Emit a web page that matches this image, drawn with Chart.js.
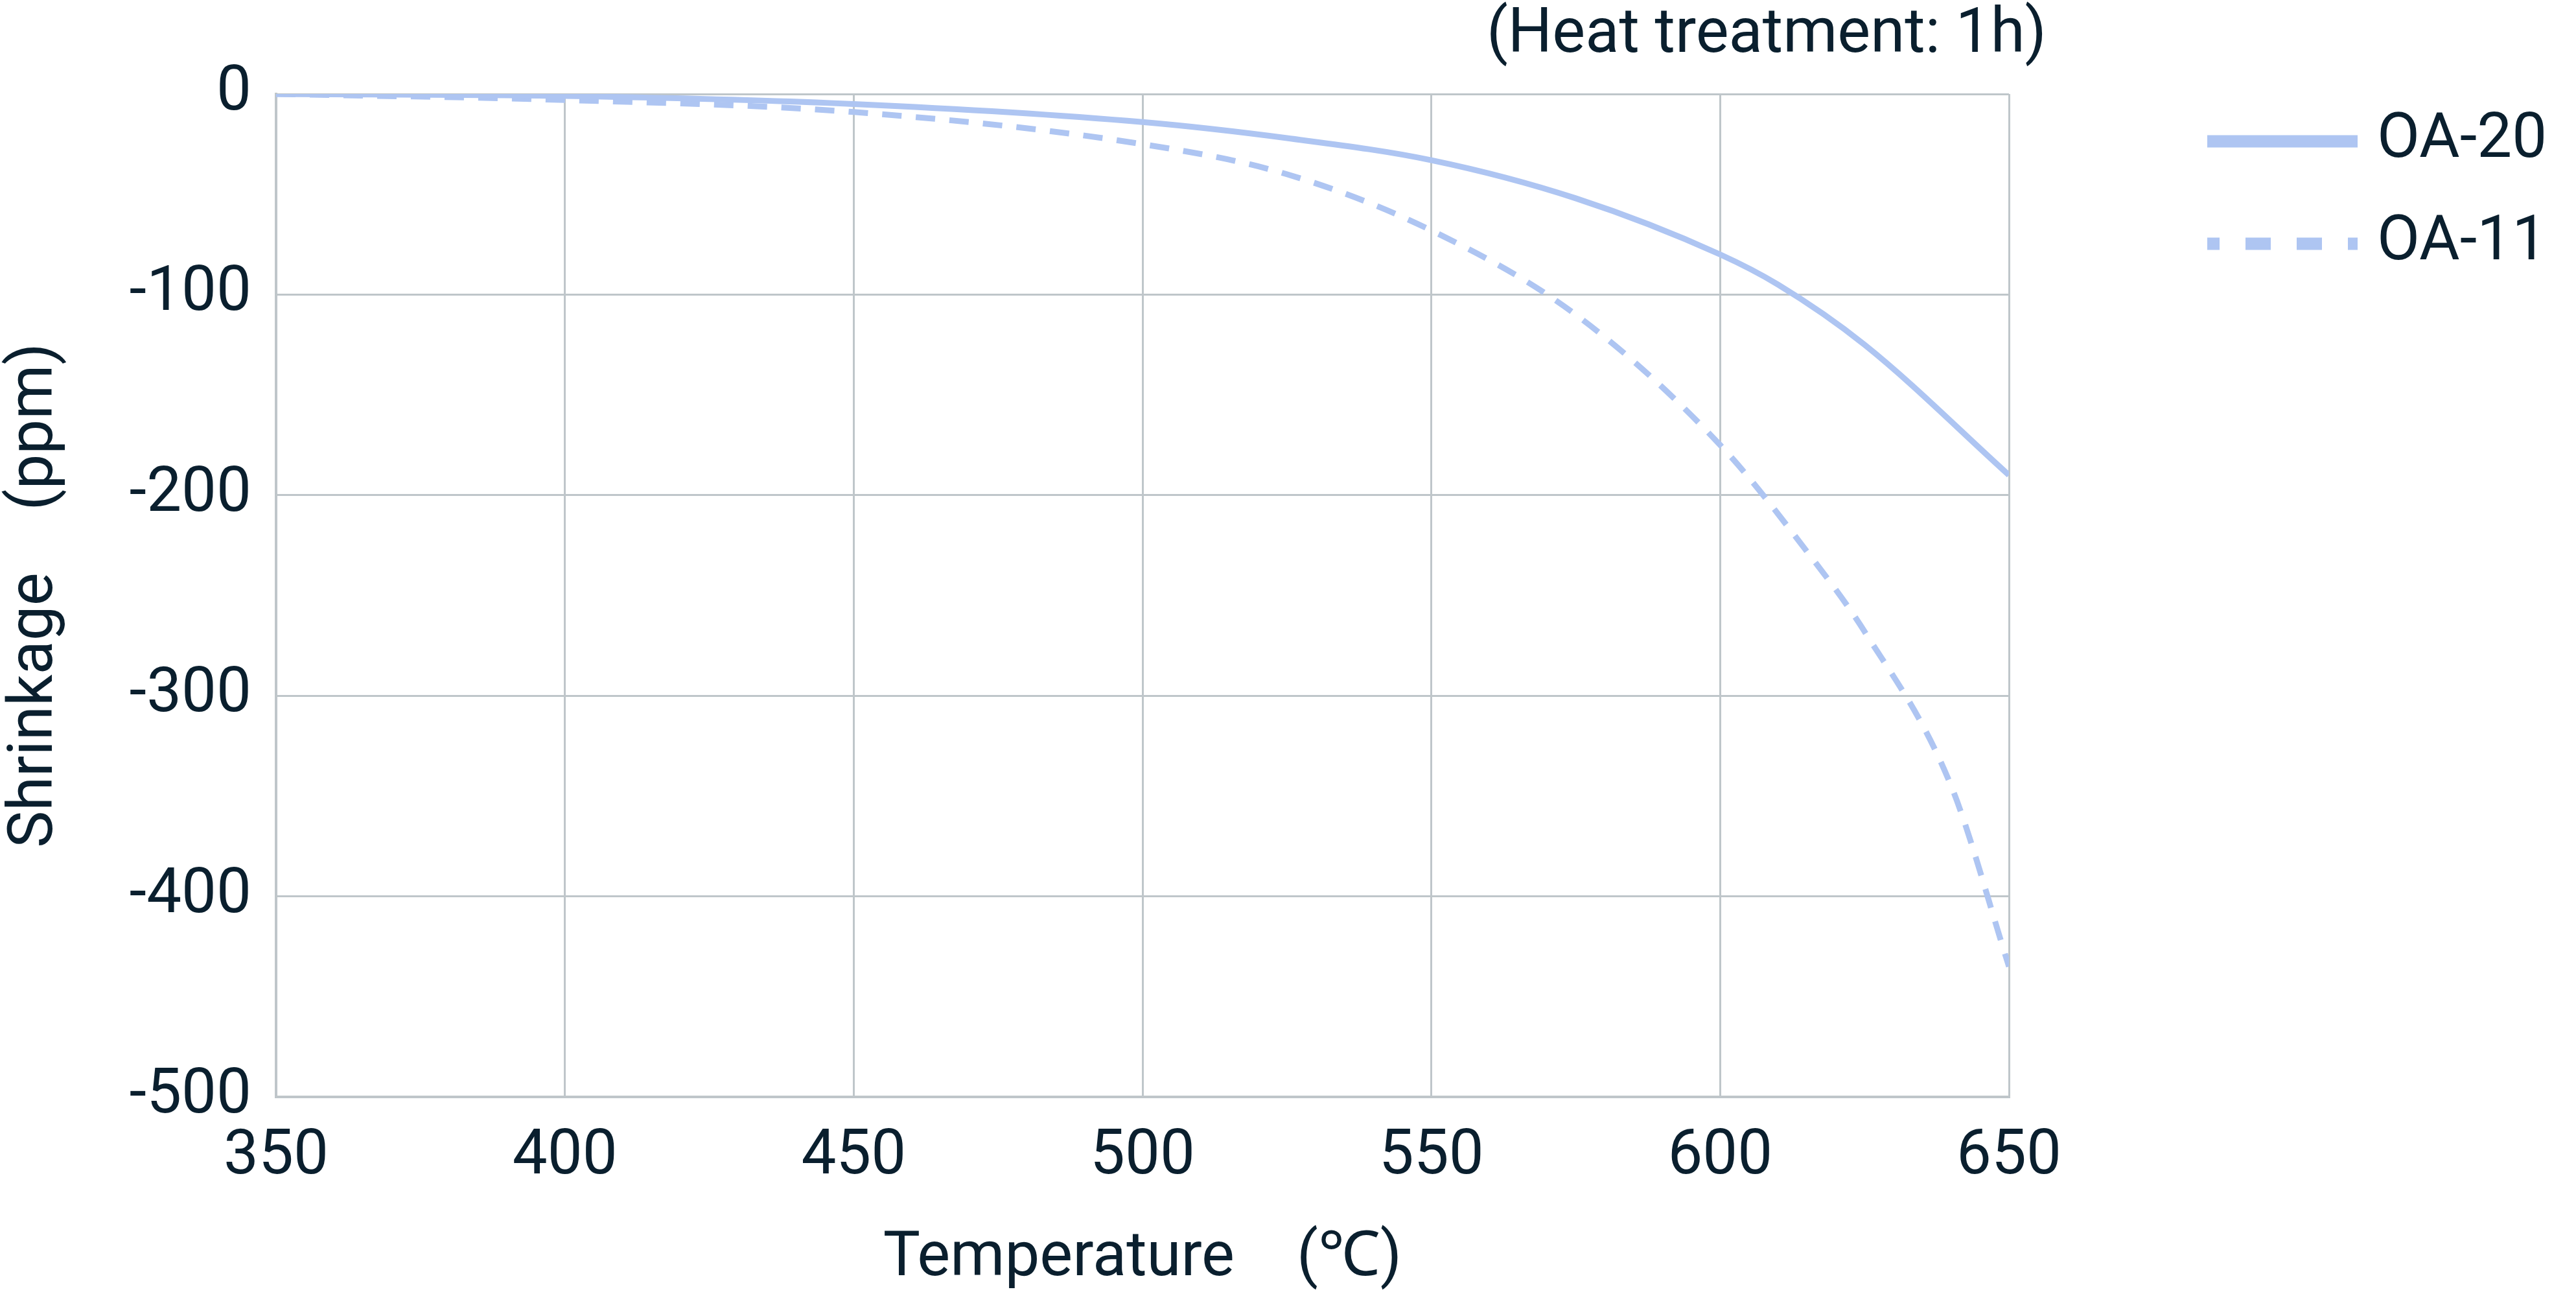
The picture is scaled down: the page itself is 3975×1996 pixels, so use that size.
<!DOCTYPE html>
<html>
<head>
<meta charset="utf-8">
<script src="https://cdn.jsdelivr.net/npm/chart.js@4"></script>
<style>
  html, body { margin: 0; padding: 0; background: #fff; }
  #wrap { width: 3975px; height: 1996px; }
</style>
</head>
<body>
<div id="wrap"><canvas id="chart" width="3975" height="1996"></canvas></div>
<script>
// Data
const temps20 = [350, 400, 450, 500, 525, 550, 575, 600, 610, 625, 650];
const oa20 = [0, -1, -5, -14, -22, -33, -52, -80, -95, -125, -190];
const temps11 = [350, 400, 450, 500, 525, 550, 575, 600, 615, 625, 640, 650];
const oa11 = [0, -3, -9, -25, -40, -68, -110, -175, -228, -268, -345, -435];
const xTicks = [350, 400, 450, 500, 550, 600, 650];
const yTicks = [0, -100, -200, -300, -400, -500];

const lineColor = '#aec5f2';
const textColor = '#0a1f2e';
const gridColor = '#bfc6ca';
const font = 'Roboto';
const fontSize = 96;

const toPoints = (xs, ys) => xs.map((x, i) => ({ x: x, y: ys[i] }));

// titles and line legend drawn on canvas
const extras = {
  id: 'extras',
  afterDraw(chart) {
    const ctx = chart.ctx;
    const area = chart.chartArea;
    ctx.save();
    ctx.fillStyle = textColor;
    ctx.font = fontSize + 'px ' + font;
    ctx.textBaseline = 'middle';

    ctx.textAlign = 'right';
    ctx.fillText('(Heat treatment: 1h)', 3158, 56);

    ctx.textAlign = 'center';
    ctx.fillText('Temperature\u3000(\u2103)', (area.left + area.right) / 2, 1943);

    ctx.save();
    ctx.translate(56, (area.top + area.bottom) / 2);
    ctx.rotate(-Math.PI / 2);
    ctx.fillText('Shrinkage\u3000(ppm)', 0, 0);
    ctx.restore();

    // legend
    ctx.textAlign = 'left';
    chart.data.datasets.forEach((ds, i) => {
      const y = 218 + i * 158;
      ctx.strokeStyle = ds.borderColor;
      ctx.lineWidth = 19;
      ctx.setLineDash(ds.borderDash.length ? [39, 40] : []);
      ctx.lineDashOffset = ds.borderDash.length ? 20 : 0;
      ctx.beginPath();
      ctx.moveTo(3406, y);
      ctx.lineTo(3638, y);
      ctx.stroke();
      ctx.fillText(ds.label, 3668, y);
    });
    ctx.restore();
  }
};

new Chart(document.getElementById('chart').getContext('2d'), {
  type: 'line',
  data: {
    datasets: [{
      label: 'OA-20',
      data: toPoints(temps20, oa20),
      borderColor: lineColor,
      borderWidth: 9,
      borderDash: [],
      pointRadius: 0,
      cubicInterpolationMode: 'monotone'
    }, {
      label: 'OA-11',
      data: toPoints(temps11, oa11),
      borderColor: lineColor,
      borderWidth: 9,
      borderDash: [30, 22],
      pointRadius: 0,
      cubicInterpolationMode: 'monotone'
    }]
  },
  options: {
    responsive: false,
    animation: false,
    devicePixelRatio: 1,
    layout: { padding: { left: 0, top: 145, right: 875, bottom: 0 } },
    plugins: { legend: { display: false }, tooltip: { enabled: false } },
    scales: {
      x: {
        type: 'linear',
        min: 350, max: 650,
        afterBuildTicks: s => { s.ticks = xTicks.map(v => ({ value: v })); },
        afterFit: s => { s.height = 304; },
        grid: { color: gridColor, lineWidth: 3, drawTicks: false },
        border: { color: gridColor, width: 4 },
        ticks: { color: textColor, font: { family: font, size: fontSize }, padding: 36 }
      },
      y: {
        min: -500, max: 0,
        afterBuildTicks: s => { s.ticks = yTicks.map(v => ({ value: v })); },
        afterFit: s => { s.width = 426; },
        grid: { color: gridColor, lineWidth: 3, drawTicks: false },
        border: { color: gridColor, width: 4 },
        ticks: { color: textColor, font: { family: font, size: fontSize }, padding: 38 }
      }
    }
  },
  plugins: [extras]
});
</script>
</body>
</html>
